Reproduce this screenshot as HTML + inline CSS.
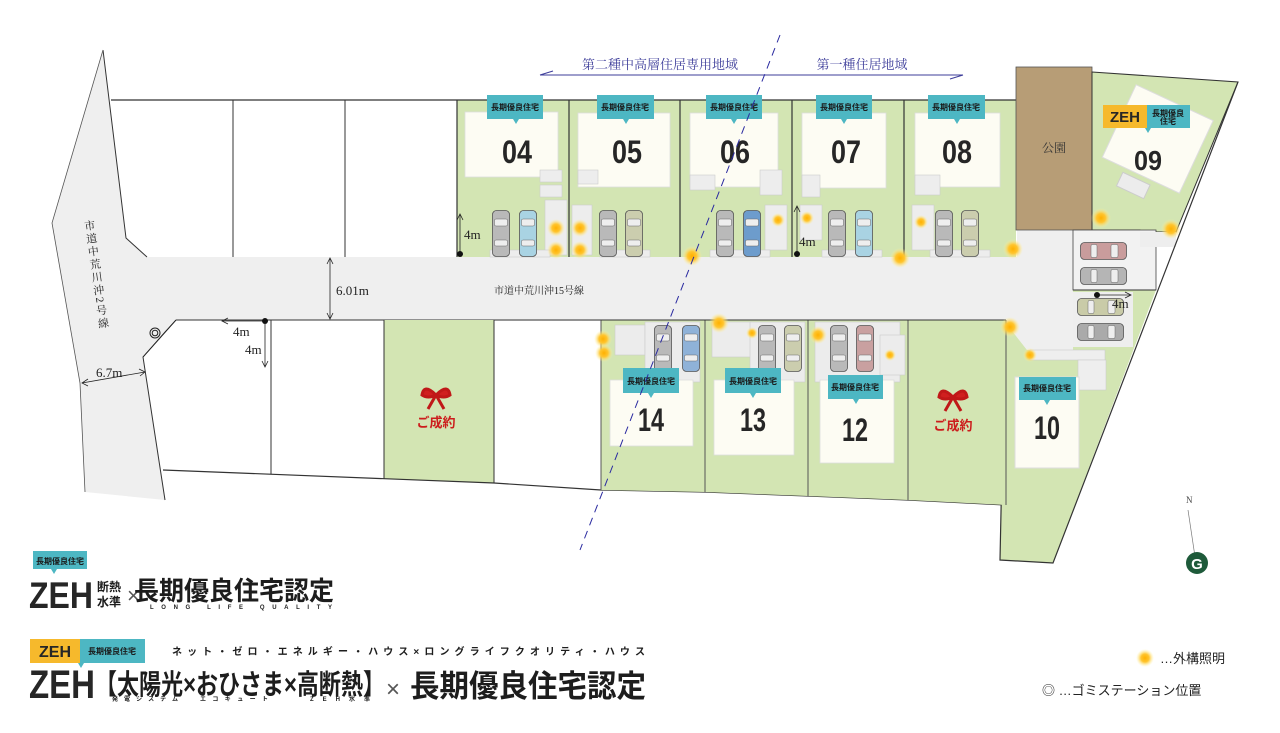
<!DOCTYPE html>
<html><head><meta charset="utf-8"><style>
html,body{margin:0;padding:0;background:#fff;}
svg{display:block}
text{font-family:"Liberation Sans","Noto Sans CJK JP",sans-serif;}
text.serif{font-family:"Liberation Serif","Noto Serif CJK SC",serif;}
text.num{font-family:"Liberation Sans Narrow","Liberation Sans",sans-serif;font-weight:bold;fill:#262626;}
text.lbl{font-family:"Noto Sans CJK JP",sans-serif;font-weight:bold;font-size:8px;fill:#1a1a1a;}
</style></head><body>
<svg width="1280" height="733" viewBox="0 0 1280 733" xmlns="http://www.w3.org/2000/svg">
<defs>
<radialGradient id="glow"><stop offset="0" stop-color="#ffb000"/><stop offset="0.45" stop-color="#ffc530"/><stop offset="1" stop-color="#fff3a0" stop-opacity="0"/></radialGradient>
<symbol id="car" viewBox="0 0 18 47"><rect x="0.5" y="0.5" width="17" height="46" rx="4" fill="currentColor" stroke="#555" stroke-width="0.8"/><rect x="2.5" y="9" width="13" height="7" rx="1.5" fill="#eee" stroke="#666" stroke-width="0.5"/><rect x="2.5" y="30" width="13" height="6" rx="1.5" fill="#eee" stroke="#666" stroke-width="0.5"/></symbol>
<symbol id="carh" viewBox="0 0 47 18"><rect x="0.5" y="0.5" width="46" height="17" rx="4" fill="currentColor" stroke="#555" stroke-width="0.8"/><rect x="31" y="2.5" width="7" height="13" rx="1.5" fill="#eee" stroke="#666" stroke-width="0.5"/><rect x="11" y="2.5" width="6" height="13" rx="1.5" fill="#eee" stroke="#666" stroke-width="0.5"/></symbol>
</defs>

<polygon points="103,50 126,238 147,257 1017,257 1017,230 1073,230 1073,350 1027,350 1005,322 176,320 143,357 165,500 85,492 80,383 52,223" fill="#efefef"/>
<polyline points="103,50 126,238 147,257" fill="none" stroke="#333" stroke-width="1"/>
<polyline points="103,50 52,223 80,383 85,492" fill="none" stroke="#555" stroke-width="0.8"/>
<polyline points="165,500 143,357 176,320" fill="none" stroke="#333" stroke-width="1"/>

<polyline points="111,100 457,100" fill="none" stroke="#333" stroke-width="1.2"/>
<line x1="233" y1="100" x2="233" y2="257" stroke="#333"/>
<line x1="345" y1="100" x2="345" y2="257" stroke="#333"/>
<line x1="176" y1="320" x2="1005" y2="320" stroke="#333"/>
<polygon points="384,320 494,320 494,483 384,479" fill="#d3e5b3"/>
<polyline points="163,470 494,483 601,490 705,492 808,496 908,500 1006,505" fill="none" stroke="#333" stroke-width="1.2"/>
<line x1="271" y1="320" x2="271" y2="474" stroke="#333"/>
<line x1="384" y1="320" x2="384" y2="479" stroke="#333"/>
<line x1="494" y1="320" x2="494" y2="483" stroke="#333"/>

<rect x="457" y="100" width="559" height="157" fill="#d3e5b3"/>
<line x1="457" y1="100" x2="1016" y2="100" stroke="#333" stroke-width="1.2"/>
<g stroke="#333" stroke-width="1.2">
<line x1="457" y1="100" x2="457" y2="257"/><line x1="569" y1="100" x2="569" y2="257"/><line x1="680" y1="100" x2="680" y2="257"/><line x1="792" y1="100" x2="792" y2="257"/><line x1="904" y1="100" x2="904" y2="257"/>
</g>
<g fill="#fdfcf3" stroke="#ddd" stroke-width="0.8">
<rect x="465" y="112" width="93" height="65"/><rect x="578" y="113" width="92" height="74"/><rect x="690" y="113" width="88" height="74"/><rect x="802" y="113" width="84" height="75"/><rect x="915" y="113" width="85" height="74"/>
</g>
<g fill="#ededed" stroke="#ccc" stroke-width="0.6">
<rect x="540" y="170" width="22" height="12"/><rect x="540" y="185" width="22" height="12"/><rect x="545" y="200" width="22" height="55"/><rect x="572" y="205" width="20" height="50"/>
<rect x="578" y="170" width="20" height="14"/><rect x="760" y="170" width="22" height="25"/><rect x="765" y="205" width="22" height="45"/>
<rect x="690" y="175" width="25" height="15"/><rect x="802" y="175" width="18" height="22"/><rect x="800" y="205" width="22" height="35"/>
<rect x="915" y="175" width="25" height="20"/><rect x="912" y="205" width="22" height="45"/>
<rect x="490" y="250" width="60" height="7"/><rect x="600" y="250" width="50" height="7"/><rect x="710" y="250" width="60" height="7"/><rect x="822" y="250" width="60" height="7"/><rect x="930" y="250" width="60" height="7"/>
</g>
<rect x="1016" y="67" width="76" height="163" fill="#b79d76"/>
<rect x="1016" y="67" width="76" height="163" fill="none" stroke="#555" stroke-width="0.8"/>
<text x="1054" y="152" class="serif" font-size="12" text-anchor="middle" fill="#333">公園</text>
<polygon points="1092,72 1238,82 1176,232 1140,232 1140,230 1092,230" fill="#d3e5b3" stroke="#333" stroke-width="1"/>
<g transform="rotate(25 1160 140)"><rect x="1115" y="100" width="85" height="80" fill="#fdfcf3" stroke="#ddd"/><rect x="1140" y="185" width="30" height="15" fill="#ececec" stroke="#ccc"/></g>
<rect x="1073" y="230" width="83" height="60" fill="#f2f2f2" stroke="#444" stroke-width="0.8"/>
<rect x="1140" y="232" width="36" height="15" fill="#eee"/>
<use href="#carh" x="1080" y="242" width="47" height="18" color="#c99c9c"/>
<use href="#carh" x="1080" y="267" width="47" height="18" color="#b5b5b5"/>
<polygon points="1005,322 1027,350 1073,350 1073,290 1156,290 1053,563 1000,560" fill="#d3e5b3"/>
<polyline points="1005,320 1000,560 1053,563 1238,82" fill="none" stroke="#333" stroke-width="1.2"/>
<line x1="1073" y1="290" x2="1156" y2="290" stroke="#333"/>
<rect x="1073" y="292" width="60" height="55" fill="#eee"/>
<use href="#carh" x="1077" y="298" width="47" height="18" color="#c9cba8"/>
<use href="#carh" x="1077" y="323" width="47" height="18" color="#aaa"/>
<rect x="1030" y="350" width="75" height="10" fill="#eee" stroke="#ccc" stroke-width="0.6"/>
<rect x="1078" y="360" width="28" height="30" fill="#eee" stroke="#ccc" stroke-width="0.6"/>
<rect x="1015" y="377" width="64" height="91" fill="#fdfcf3" stroke="#ddd"/>

<polygon points="601,320 1006,320 1006,505 908,500 808,496 705,492 601,490" fill="#d3e5b3"/>
<g stroke="#555" stroke-width="1"><line x1="601" y1="320" x2="601" y2="490"/><line x1="705" y1="320" x2="705" y2="492"/><line x1="808" y1="320" x2="808" y2="496"/><line x1="908" y1="320" x2="908" y2="500"/><line x1="1006" y1="320" x2="1006" y2="505"/></g>
<line x1="601" y1="320" x2="1006" y2="320" stroke="#333"/>
<g fill="#ececec" stroke="#ccc" stroke-width="0.6">
<rect x="615" y="325" width="30" height="30"/><rect x="645" y="322" width="55" height="60"/><rect x="712" y="322" width="40" height="35"/><rect x="750" y="322" width="55" height="60"/><rect x="815" y="322" width="85" height="60"/><rect x="880" y="335" width="25" height="40"/>
</g>
<g fill="#fdfcf3" stroke="#ddd" stroke-width="0.8">
<rect x="610" y="380" width="83" height="66"/><rect x="714" y="380" width="80" height="75"/><rect x="820" y="380" width="74" height="83"/>
</g>

<g>
<use href="#car" x="492" y="210" width="18" height="47" color="#b9b9b9"/><use href="#car" x="519" y="210" width="18" height="47" color="#a9d3e3"/>
<use href="#car" x="599" y="210" width="18" height="47" color="#b9b9b9"/><use href="#car" x="625" y="210" width="18" height="47" color="#cbcdae"/>
<use href="#car" x="716" y="210" width="18" height="47" color="#b9b9b9"/><use href="#car" x="743" y="210" width="18" height="47" color="#6d9ccc"/>
<use href="#car" x="828" y="210" width="18" height="47" color="#b9b9b9"/><use href="#car" x="855" y="210" width="18" height="47" color="#a9d3e3"/>
<use href="#car" x="935" y="210" width="18" height="47" color="#b9b9b9"/><use href="#car" x="961" y="210" width="18" height="47" color="#cbcdae"/>
<use href="#car" x="654" y="325" width="18" height="47" color="#b9b9b9"/><use href="#car" x="682" y="325" width="18" height="47" color="#8fb2d8"/>
<use href="#car" x="758" y="325" width="18" height="47" color="#b9b9b9"/><use href="#car" x="784" y="325" width="18" height="47" color="#cbcdae"/>
<use href="#car" x="830" y="325" width="18" height="47" color="#b9b9b9"/><use href="#car" x="856" y="325" width="18" height="47" color="#c9a0a0"/>
</g>

<g fill="#4db7c3">
<rect x="487" y="95" width="56" height="24"/><polygon points="513,119 519,119 516,124"/>
<rect x="597" y="95" width="57" height="24"/><polygon points="623,119 629,119 626,124"/>
<rect x="706" y="95" width="56" height="24"/><polygon points="731,119 737,119 734,124"/>
<rect x="816" y="95" width="56" height="24"/><polygon points="841,119 847,119 844,124"/>
<rect x="928" y="95" width="57" height="24"/><polygon points="954,119 960,119 957,124"/>
<rect x="623" y="368" width="56" height="25"/><polygon points="648,393 654,393 651,398"/>
<rect x="725" y="368" width="56" height="25"/><polygon points="750,393 756,393 753,398"/>
<rect x="828" y="375" width="55" height="24"/><polygon points="853,399 859,399 856,404"/>
<rect x="1019" y="377" width="57" height="23"/><polygon points="1044,400 1050,400 1047,405"/>
<rect x="1147" y="105" width="43" height="23"/><polygon points="1145,128 1151,128 1148,133"/>
</g>
<rect x="1103" y="105" width="44" height="23" fill="#f6b92c"/>
<g text-anchor="middle">
<text class="lbl" x="515" y="110">長期優良住宅</text><text class="lbl" x="625" y="110">長期優良住宅</text><text class="lbl" x="734" y="110">長期優良住宅</text><text class="lbl" x="844" y="110">長期優良住宅</text><text class="lbl" x="956" y="110">長期優良住宅</text>
<text class="lbl" x="651" y="384">長期優良住宅</text><text class="lbl" x="753" y="384">長期優良住宅</text><text class="lbl" x="855" y="390">長期優良住宅</text><text class="lbl" x="1047" y="391">長期優良住宅</text>
<text class="lbl" x="1168" y="116">長期優良</text><text class="lbl" x="1168" y="124" font-size="5">住宅</text>
</g>
<text x="1125" y="122" class="num" font-size="15" text-anchor="middle" fill="#222" textLength="30" lengthAdjust="spacingAndGlyphs">ZEH</text>
<g font-size="32">
<text class="num" x="502" y="163" textLength="30" lengthAdjust="spacingAndGlyphs">04</text>
<text class="num" x="612" y="163" textLength="30" lengthAdjust="spacingAndGlyphs">05</text>
<text class="num" x="720" y="163" textLength="30" lengthAdjust="spacingAndGlyphs">06</text>
<text class="num" x="831" y="163" textLength="30" lengthAdjust="spacingAndGlyphs">07</text>
<text class="num" x="942" y="163" textLength="30" lengthAdjust="spacingAndGlyphs">08</text>
<text class="num" x="1134" y="170" font-size="28" textLength="28" lengthAdjust="spacingAndGlyphs">09</text>
<text class="num" x="638" y="431" textLength="26" lengthAdjust="spacingAndGlyphs">14</text>
<text class="num" x="740" y="431" textLength="26" lengthAdjust="spacingAndGlyphs">13</text>
<text class="num" x="842" y="441" textLength="26" lengthAdjust="spacingAndGlyphs">12</text>
<text class="num" x="1034" y="439" textLength="26" lengthAdjust="spacingAndGlyphs">10</text>
</g>

<g>
<path d="M436,395 q-12,-12 -14,0 q6,4 14,0 q12,-12 14,0 q-6,4 -14,0 l-8,14 M436,395 l8,14" fill="#d01f1f" stroke="#c01818" stroke-width="3"/>
<text x="436" y="427" text-anchor="middle" font-size="13" font-weight="bold" fill="#cc1c1c" font-family="Noto Sans CJK JP,sans-serif">ご成約</text>
<path d="M953,397 q-12,-12 -14,0 q6,4 14,0 q12,-12 14,0 q-6,4 -14,0 l-8,14 M953,397 l8,14" fill="#d01f1f" stroke="#c01818" stroke-width="3"/>
<text x="953" y="430" text-anchor="middle" font-size="13" font-weight="bold" fill="#cc1c1c" font-family="Noto Sans CJK JP,sans-serif">ご成約</text>
</g>

<g fill="url(#glow)">
<circle cx="556" cy="228" r="9"/><circle cx="580" cy="228" r="9"/><circle cx="556" cy="250" r="9"/><circle cx="580" cy="250" r="9"/>
<circle cx="692" cy="256" r="10"/><circle cx="778" cy="220" r="7"/><circle cx="807" cy="218" r="7"/><circle cx="900" cy="258" r="10"/><circle cx="921" cy="222" r="7"/><circle cx="1013" cy="249" r="10"/>
<circle cx="1101" cy="218" r="10"/><circle cx="1171" cy="229" r="10"/><circle cx="1010" cy="327" r="10"/><circle cx="1030" cy="355" r="7"/>
<circle cx="719" cy="323" r="10"/><circle cx="752" cy="333" r="6"/><circle cx="603" cy="339" r="9"/><circle cx="604" cy="353" r="9"/><circle cx="818" cy="335" r="9"/><circle cx="890" cy="355" r="6"/>
</g>

<line x1="540" y1="75" x2="963" y2="75" stroke="#3d3d9a" stroke-width="1"/>
<polyline points="553,71 540,75" stroke="#3d3d9a" fill="none"/><polyline points="950,79 963,75" stroke="#3d3d9a" fill="none"/>
<text x="660" y="69" class="serif" font-size="13" text-anchor="middle" fill="#3d3d9a" font-family="Liberation Serif,Noto Serif CJK SC,serif">第二種中高層住居専用地域</text>
<text x="862" y="69" class="serif" font-size="13" text-anchor="middle" fill="#3d3d9a" font-family="Liberation Serif,Noto Serif CJK SC,serif">第一種住居地域</text>
<line x1="780" y1="35" x2="580" y2="550" stroke="#2a2aa0" stroke-width="1" stroke-dasharray="8,6"/>

<g stroke="#222" stroke-width="0.8" fill="none">
<line x1="330" y1="258" x2="330" y2="319"/><polyline points="327,264 330,258 333,264"/><polyline points="327,313 330,319 333,313"/>
<line x1="82" y1="383" x2="145" y2="372"/><polyline points="88,379 82,383 88,386"/><polyline points="139,369 145,372 140,376"/>
<line x1="265" y1="321" x2="265" y2="367"/><polyline points="262,361 265,367 268,361"/>
<line x1="265" y1="321" x2="222" y2="321"/><polyline points="228,318 222,321 228,324"/>
<line x1="460" y1="214" x2="460" y2="255"/><polyline points="457,220 460,214 463,220"/>
<line x1="797" y1="206" x2="797" y2="255"/><polyline points="794,212 797,206 800,212"/>
<line x1="1097" y1="295" x2="1131" y2="295"/><polyline points="1125,292 1131,295 1125,298"/>
<polyline points="143,357 165,332 176,320"/>
</g>
<g fill="#111"><circle cx="265" cy="321" r="3"/><circle cx="460" cy="254" r="3"/><circle cx="797" cy="254" r="3"/><circle cx="1097" cy="295" r="3"/></g>
<circle cx="155" cy="333" r="5" fill="none" stroke="#222"/><circle cx="155" cy="333" r="2.8" fill="none" stroke="#222"/>
<g font-size="13" fill="#222">
<text class="serif" x="336" y="295" font-family="Liberation Serif,serif">6.01m</text><text class="serif" x="96" y="377" font-family="Liberation Serif,serif">6.7m</text>
<text class="serif" x="233" y="336" font-family="Liberation Serif,serif">4m</text><text class="serif" x="245" y="354" font-family="Liberation Serif,serif">4m</text><text class="serif" x="464" y="239" font-family="Liberation Serif,serif">4m</text><text class="serif" x="799" y="246" font-family="Liberation Serif,serif">4m</text><text class="serif" x="1112" y="308" font-family="Liberation Serif,serif">4m</text>
<text class="serif" x="494" y="294" font-size="10" font-family="Liberation Serif,Noto Serif CJK SC,serif">市道中荒川沖15号線</text>
</g>
<text class="serif" font-size="11" fill="#222" letter-spacing="2" transform="translate(88,220) rotate(-8)" writing-mode="tb" font-family="Liberation Serif,Noto Serif CJK SC,serif">市道中荒川沖2号線</text>

<line x1="1188" y1="510" x2="1197" y2="570" stroke="#777" stroke-width="0.7"/>
<text x="1186" y="503" class="serif" font-size="9" fill="#444">N</text>
<circle cx="1197" cy="563" r="11" fill="#1e5a3a"/>
<text x="1197" y="569" text-anchor="middle" font-size="15" font-weight="bold" fill="#fff">G</text>

<circle cx="1145" cy="658" r="9" fill="url(#glow)"/>
<text x="1160" y="663" font-size="13" fill="#222" font-family="Noto Sans CJK JP,sans-serif">…外構照明</text>
<text x="1042" y="695" font-size="13" fill="#222" font-family="Noto Sans CJK JP,sans-serif">◎ …ゴミステーション位置</text>

<rect x="33" y="551" width="54" height="18" fill="#4db7c3"/><polygon points="51,569 57,569 54,574" fill="#4db7c3"/>
<text x="60" y="564" class="lbl" font-size="7.5" text-anchor="middle">長期優良住宅</text>
<text x="29" y="608" class="num" font-size="37" fill="#1d1d1d" textLength="64" lengthAdjust="spacingAndGlyphs">ZEH</text>
<text x="97" y="591" font-size="12" font-weight="bold" fill="#1d1d1d" font-family="Noto Sans CJK JP,sans-serif">断熱</text>
<text x="97" y="606" font-size="12" font-weight="bold" fill="#1d1d1d" font-family="Noto Sans CJK JP,sans-serif">水準</text>
<text x="127" y="603" font-size="22" fill="#555">×</text>
<text x="134" y="600" font-size="26" font-weight="bold" fill="#1d1d1d" font-family="Noto Sans CJK JP,sans-serif" textLength="200" lengthAdjust="spacingAndGlyphs">長期優良住宅認定</text>
<text x="150" y="609" font-size="6" font-weight="bold" fill="#1d1d1d" textLength="182" lengthAdjust="spacing">LONG LIFE QUALITY</text>

<rect x="30" y="639" width="50" height="24" fill="#f6b92c"/><rect x="80" y="639" width="65" height="24" fill="#4db7c3"/>
<polygon points="78,663 84,663 81,668" fill="#4db7c3"/>
<text x="55" y="657" class="num" font-size="16" text-anchor="middle" fill="#1d1d1d">ZEH</text>
<text x="112" y="654" class="lbl" font-size="7.5" text-anchor="middle">長期優良住宅</text>
<text x="172" y="655" font-size="10" font-weight="bold" fill="#1d1d1d" font-family="Noto Sans CJK JP,sans-serif" textLength="473" lengthAdjust="spacing">ネット・ゼロ・エネルギー・ハウス×ロングライフクオリティ・ハウス</text>
<text x="29" y="698" class="num" font-size="40" fill="#1d1d1d" textLength="66" lengthAdjust="spacingAndGlyphs">ZEH</text>
<text x="95" y="694" font-size="28" font-weight="bold" fill="#1d1d1d" font-family="Noto Sans CJK JP,sans-serif" textLength="290" lengthAdjust="spacingAndGlyphs">【太陽光×おひさま×高断熱】</text>
<text x="386" y="697" font-size="24" fill="#555">×</text>
<text x="410" y="697" font-size="31" font-weight="bold" fill="#1d1d1d" font-family="Noto Sans CJK JP,sans-serif" textLength="236" lengthAdjust="spacingAndGlyphs">長期優良住宅認定</text>
<g font-size="6" font-weight="bold" fill="#1d1d1d" font-family="Noto Sans CJK JP,sans-serif">
<text x="112" y="701" textLength="66" lengthAdjust="spacing">発電システム</text>
<text x="200" y="701" textLength="68" lengthAdjust="spacing">エコキュート</text>
<text x="310" y="701" textLength="60" lengthAdjust="spacing">ZEH水準</text>
</g>
</svg>
</body></html>
